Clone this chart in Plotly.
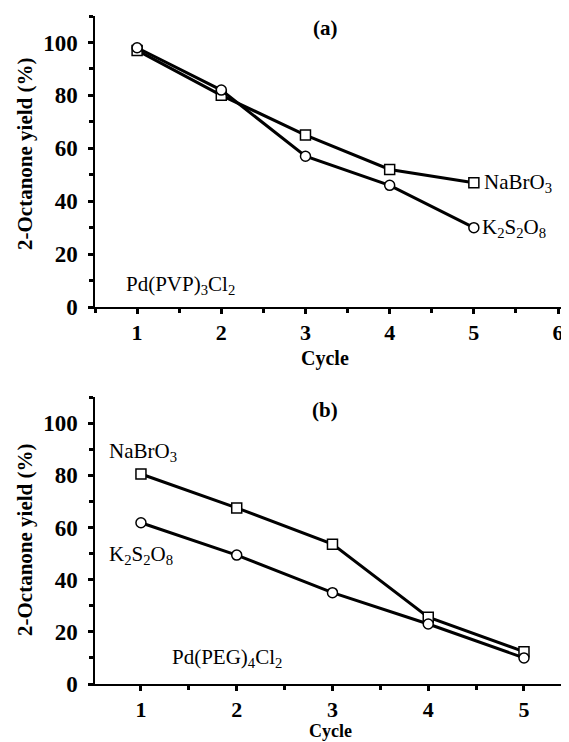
import plotly.graph_objects as go

cycles_a = [1, 2, 3, 4, 5]
nabro3_a = [97, 80, 65, 52, 47]
k2s2o8_a = [98, 82, 57, 46, 30]

cycles_b = [1, 2, 3, 4, 5]
nabro3_b = [80.5, 67.5, 53.6, 25.6, 12.4]
k2s2o8_b = [61.8, 49.4, 35, 23, 10]

y_ticks = [0, 20, 40, 60, 80, 100]

SERIF = "Liberation Serif"

# The page body adds an 8px margin; size the figure to fill the rest.
OFF = 8
W, H = 569 - OFF, 742 - OFF

def px(x):
    return (x - OFF) / W

def py(y):
    return 1 - (y - OFF) / H

fig = go.Figure()

def add_series(x, y, symbol, size, xa, ya):
    fig.add_trace(go.Scatter(
        x=x, y=y, mode="lines+markers", xaxis=xa, yaxis=ya,
        line=dict(color="black", width=3),
        marker=dict(symbol=symbol, size=size, color="white",
                    line=dict(color="black", width=1.5)),
        showlegend=False))

add_series(cycles_a, nabro3_a, "square", 10, "x", "y")
add_series(cycles_a, k2s2o8_a, "circle", 10, "x", "y")
add_series(cycles_b, nabro3_b, "square", 10, "x2", "y2")
add_series(cycles_b, k2s2o8_b, "circle", 10, "x2", "y2")

xdom = [px(95), 1.0]
ydom_a = [py(307), py(16)]
ydom_b = [py(684), py(397)]

ytickfont = dict(family=SERIF, size=23, color="black")
xtickfont = dict(family=SERIF, size=22, color="black")

def xaxis(rng, dom, anchor, ticks):
    return dict(domain=dom, range=rng, anchor=anchor, automargin=False,
                showline=True, linecolor="black", linewidth=1.5,
                showgrid=False, zeroline=False,
                ticks="outside", ticklen=5, tickwidth=2.5, tickcolor="black",
                tickvals=ticks, ticktext=[f"<b>{t}</b>" for t in ticks],
                tickfont=xtickfont, ticklabelstandoff=0,
                minor=dict(dtick=0.5, tick0=0.5, ticks="outside", ticklen=4,
                           tickwidth=2.5, tickcolor="black", showgrid=False))

def yaxis(dom, anchor):
    return dict(domain=dom, range=[0, 110], anchor=anchor, automargin=False,
                showline=True, linecolor="black", linewidth=1.5,
                showgrid=False, zeroline=False,
                ticks="outside", ticklen=5, tickwidth=2.5, tickcolor="black",
                tickvals=y_ticks, ticktext=[f"<b>{t}</b>" for t in y_ticks],
                tickfont=ytickfont, ticklabelstandoff=6,
                minor=dict(dtick=10, tick0=0, ticks="outside", ticklen=4,
                           tickwidth=2.5, tickcolor="black", showgrid=False))

fig.update_layout(
    width=W, height=H,
    margin=dict(l=0, r=0, t=0, b=0),
    paper_bgcolor="white", plot_bgcolor="white",
    xaxis=xaxis([0.5, 6.13], xdom, "y", [1, 2, 3, 4, 5, 6]),
    yaxis=yaxis(ydom_a, "x"),
    xaxis2=xaxis([0.52, 5.47], xdom, "y2", [1, 2, 3, 4, 5]),
    yaxis2=yaxis(ydom_b, "x2"),
)

lab = dict(family=SERIF, size=21, color="black")
ytitle = "<b>2-Octanone yield (%)</b>"

def pann(x, y, text, angle=0, size=21):
    return dict(x=px(x), y=py(y), xref="paper", yref="paper", text=text,
                textangle=angle, showarrow=False, xanchor="center",
                yanchor="middle", font=dict(family=SERIF, size=size, color="black"))

ann = [
    pann(325, 28, "<b>(a)</b>"),
    pann(325, 410, "<b>(b)</b>"),
    pann(25, 154, ytitle, -90),
    pann(25, 540, ytitle, -90),
    pann(325, 358, "<b>Cycle</b>", 0, 20),
    pann(330, 731, "<b>Cycle</b>", 0, 18),
    dict(x=1.51, y=8.3, xref="x", yref="y", text="Pd(PVP)<sub>3</sub>Cl<sub>2</sub>",
         showarrow=False, xanchor="center", yanchor="middle", font=lab),
    dict(x=5.1, y=47, xref="x", yref="y", text="NaBrO<sub>3</sub>",
         showarrow=False, xanchor="left", yanchor="middle", font=lab),
    dict(x=5.07, y=30, xref="x", yref="y", text="K<sub>2</sub>S<sub>2</sub>O<sub>8</sub>",
         showarrow=False, xanchor="left", yanchor="middle", font=lab),
    dict(x=0.65, y=89, xref="x2", yref="y2", text="NaBrO<sub>3</sub>",
         showarrow=False, xanchor="left", yanchor="middle", font=lab),
    dict(x=0.65, y=49.4, xref="x2", yref="y2", text="K<sub>2</sub>S<sub>2</sub>O<sub>8</sub>",
         showarrow=False, xanchor="left", yanchor="middle", font=lab),
    dict(x=1.9, y=10, xref="x2", yref="y2", text="Pd(PEG)<sub>4</sub>Cl<sub>2</sub>",
         showarrow=False, xanchor="center", yanchor="middle", font=lab),
]
fig.update_layout(annotations=ann)

fig.write_html("out.html")
